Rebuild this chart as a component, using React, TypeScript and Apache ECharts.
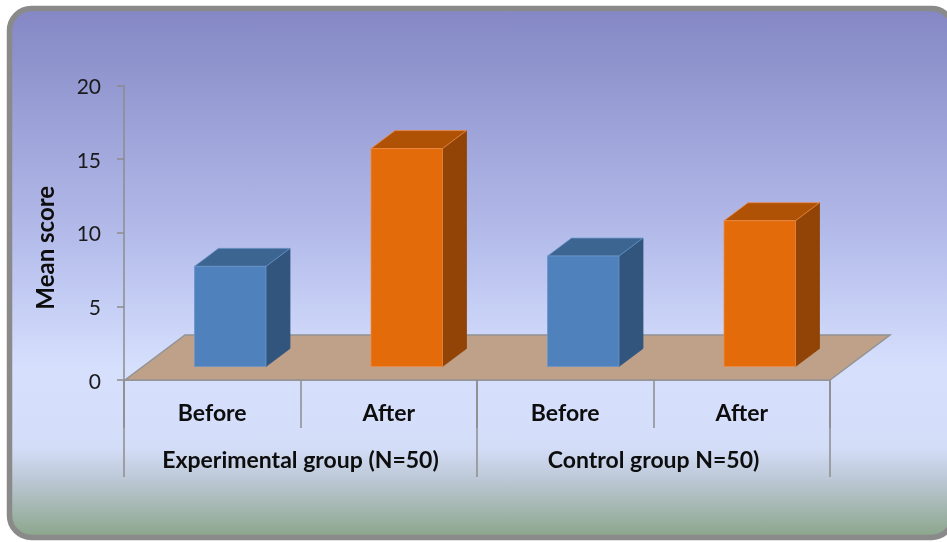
import { useEffect, useRef } from "react";
import * as echarts from "echarts";

// Mean scores per category, read left to right
const categories = ["Before", "After", "Before", "After"];
const groupLabels = ["Experimental group (N=50)", "Control group N=50)"];
const meanScores = [6.8, 14.8, 7.5, 9.9];
const phases = ["before", "after", "before", "after"];
const yMin = 0;
const yMax = 20;
const yStep = 5;

const FACE_COLORS: Record<string, { front: string; side: string; top: string; edge: string }> = {
  before: { front: "#4F81BD", side: "#32557E", top: "#3C6591", edge: "#6C96CC" },
  after: { front: "#E36B0A", side: "#914405", top: "#B05205", edge: "#EE8A45" },
};

// Receding direction of the floor (px) and where the columns sit in its depth
const DEPTH_X = 60;
const DEPTH_Y = -45;
const BAR_NEAR = 0.3;
const BAR_FAR = 0.7;
const BAR_WIDTH = 0.405;

const FONT = "Lato, 'Open Sans', sans-serif";
const AXIS_GREY = "#8C8C8C";

export default function App() {
  const ref = useRef<HTMLDivElement>(null);

  useEffect(() => {
    if (!ref.current) return;
    const chart = echarts.init(ref.current, null, { renderer: "svg" });

    const option: any = {
      animation: false,
      graphic: [
        {
          type: "rect",
          z: -100,
          silent: true,
          shape: { x: 9.5, y: 8.5, width: 944, height: 529, r: 22 },
          style: {
            fill: new echarts.graphic.LinearGradient(0, 0, 0, 1, [
              { offset: 0, color: "#8487C4" },
              { offset: 0.45, color: "#B6BEEC" },
              { offset: 0.68, color: "#D6E0FD" },
              { offset: 0.83, color: "#D4DDF8" },
              { offset: 0.89, color: "#BCC8D6" },
              { offset: 1, color: "#8BA58A" },
            ]),
            stroke: "#8A8A8A",
            lineWidth: 5.5,
          },
        },
      ],
      grid: {
        left: 124,
        right: 117,
        top: 85.5,
        bottom: 162,
        containLabel: false,
        outerBoundsMode: "none",
      },
      xAxis: [
        {
          type: "category",
          data: categories,
          position: "bottom",
          boundaryGap: true,
          axisLine: { show: true, lineStyle: { color: AXIS_GREY, width: 1.5 } },
          axisTick: { show: true, length: 48, interval: 0, lineStyle: { color: AXIS_GREY, width: 1.5 } },
          axisLabel: {
            interval: 0,
            margin: 20,
            fontFamily: FONT,
            fontSize: 23,
            fontWeight: "bold",
            color: "#0D0D0D",
          },
          splitLine: { show: false },
        },
        {
          type: "category",
          data: groupLabels,
          position: "bottom",
          boundaryGap: true,
          axisLine: { show: false },
          axisTick: { show: true, length: 97, interval: 0, lineStyle: { color: AXIS_GREY, width: 1.5 } },
          axisLabel: {
            interval: 0,
            margin: 67,
            fontFamily: FONT,
            fontSize: 23,
            fontWeight: "bold",
            color: "#0D0D0D",
          },
          splitLine: { show: false },
        },
      ],
      yAxis: {
        type: "value",
        min: yMin,
        max: yMax,
        interval: yStep,
        name: "Mean score",
        nameLocation: "middle",
        nameGap: 68,
        nameTextStyle: {
          fontFamily: FONT,
          fontSize: 24,
          fontWeight: "bold",
          color: "#0D0D0D",
          padding: [0, 30, 0, 0],
        },
        axisLine: { show: true, lineStyle: { color: AXIS_GREY, width: 1.5 } },
        axisTick: { show: true, length: 7, lineStyle: { color: AXIS_GREY, width: 1.5 } },
        axisLabel: {
          margin: 23,
          fontFamily: FONT,
          fontSize: 21,
          color: "#1A1A1A",
          padding: [3, 0, 0, 0],
        },
        splitLine: { show: false },
      },
      series: [
        {
          // the receding floor under the columns
          type: "custom",
          xAxisIndex: 0,
          yAxisIndex: 0,
          z: 1,
          silent: true,
          data: [[0, 0]],
          renderItem: (params: any) => {
            const cs = params.coordSys;
            const x0 = cs.x + 1;
            const x1 = cs.x + cs.width;
            const y = cs.y + cs.height;
            return {
              type: "polygon",
              shape: {
                points: [
                  [x0, y],
                  [x1, y],
                  [x1 + DEPTH_X, y + DEPTH_Y],
                  [x0 + DEPTH_X, y + DEPTH_Y],
                ],
              },
              style: { fill: "#BFA18A", stroke: "#939393", lineWidth: 1.5 },
            };
          },
        },
        {
          // 3D columns: front, side and top faces
          type: "custom",
          xAxisIndex: 0,
          yAxisIndex: 0,
          z: 3,
          data: meanScores.map((v, i) => [i, v]),
          encode: { x: 0, y: 1 },
          renderItem: (params: any, api: any) => {
            const idx = api.value(0);
            const v = api.value(1);
            const top = api.coord([idx, v]);
            const base = api.coord([idx, 0]);
            const band = api.size([1, 0])[0];
            const w = band * BAR_WIDTH;
            const nx = DEPTH_X * BAR_NEAR;
            const ny = DEPTH_Y * BAR_NEAR;
            const dx = DEPTH_X * (BAR_FAR - BAR_NEAR);
            const dy = DEPTH_Y * (BAR_FAR - BAR_NEAR);
            const xl = top[0] + nx - w / 2;
            const xr = xl + w;
            const yt = top[1] + ny;
            const yb = base[1] + ny;
            const c = FACE_COLORS[phases[params.dataIndex]];
            return {
              type: "group",
              children: [
                {
                  type: "polygon",
                  shape: { points: [[xr, yt], [xr + dx, yt + dy], [xr + dx, yb + dy], [xr, yb]] },
                  style: { fill: c.side, stroke: c.side, lineWidth: 0.8 },
                },
                {
                  type: "polygon",
                  shape: { points: [[xl, yt], [xl + dx, yt + dy], [xr + dx, yt + dy], [xr, yt]] },
                  style: { fill: c.top, stroke: c.edge, lineWidth: 0.8 },
                },
                {
                  type: "polygon",
                  shape: { points: [[xl, yt], [xr, yt], [xr, yb], [xl, yb]] },
                  style: { fill: c.front, stroke: c.edge, lineWidth: 0.8 },
                },
              ],
            };
          },
        },
      ],
    };

    chart.setOption(option);
    return () => chart.dispose();
  }, []);

  return (
    <div
      ref={ref}
      style={{ position: "fixed", left: 0, top: 0, width: 947, height: 542 }}
    />
  );
}
